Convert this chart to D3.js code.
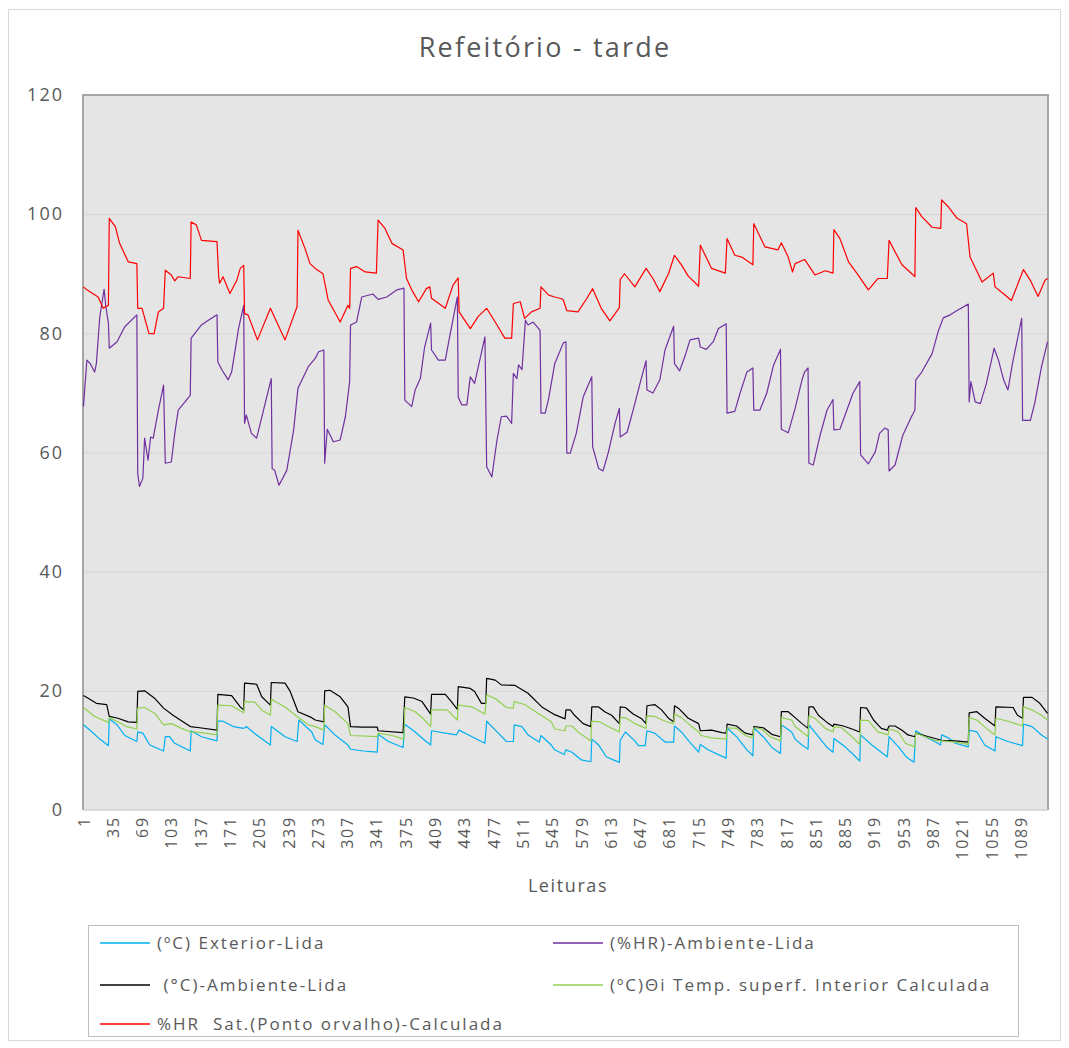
<!DOCTYPE html>
<html>
<head>
<meta charset="utf-8">
<script src="https://cdn.jsdelivr.net/npm/d3@7"></script>
<style>
  html, body { margin: 0; padding: 0; background: #fff; }
  svg { display: block; }
  text { font-family: "Open Sans", "Liberation Sans", sans-serif; }
</style>
</head>
<body>
<svg id="chart" width="1069" height="1048"></svg>
<script>
// ---------------- DATA ----------------
const chartTitle = "Refeitório - tarde";
const xTitle = "Leituras";
const nReadings = 1120;
const xTickStep = 34;
const yTicks = [0, 20, 40, 60, 80, 100, 120];

const seriesNames = [
  "(ºC) Exterior-Lida",
  "(%HR)-Ambiente-Lida",
  " (°C)-Ambiente-Lida",
  "(ºC)Θi Temp. superf. Interior Calculada",
  "%HR  Sat.(Ponto orvalho)-Calculada"
];
const seriesColors = ["#00b0f0", "#7030a0", "#000000", "#92d050", "#ff0000"];

// [reading, value]
const exterior = [[1,14.3],[11,13.1],[20,11.9],[30,10.8],[31,15.3],[40,14.3],[49,12.5],[63,11.5],[64,13.1],[70,12.9],[78,10.9],[94,9.9],[96,12.3],[101,12.3],[107,11.2],[125,9.9],[126,13.3],[138,12.3],[156,11.6],[157,14.9],[163,14.9],[175,14.0],[187,13.7],[190,14.0],[202,12.6],[218,10.9],[219,14.0],[235,12.3],[249,11.5],[251,15.1],[266,13.1],[270,11.8],[279,11.0],[281,14.3],[293,12.6],[308,10.9],[311,10.2],[326,9.9],[342,9.7],[343,12.7],[355,11.5],[372,10.5],[374,14.4],[386,13.1],[397,11.7],[404,10.9],[405,13.3],[421,12.9],[434,12.6],[437,13.4],[448,12.6],[467,11.2],[469,14.9],[479,13.4],[492,11.5],[500,11.5],[501,14.3],[510,14.0],[517,12.6],[530,11.4],[532,12.5],[544,10.9],[548,10.1],[559,9.3],[561,10.1],[568,9.7],[579,8.4],[590,8.1],[591,11.9],[599,10.9],[608,8.9],[623,8.0],[624,11.7],[630,13.1],[641,11.6],[645,10.8],[653,10.8],[655,13.3],[664,12.9],[676,11.4],[686,11.4],[687,14.1],[695,13.1],[703,11.7],[715,9.7],[717,11.0],[726,10.1],[738,9.3],[747,8.7],[748,13.8],[759,12.3],[771,10.1],[778,9.1],[779,13.8],[790,12.3],[800,10.5],[810,9.5],[811,14.3],[823,13.1],[827,11.9],[835,10.9],[842,10.2],[843,14.3],[854,12.3],[864,10.5],[871,9.7],[872,12.0],[885,10.6],[896,9.1],[902,8.2],[903,12.6],[916,10.9],[927,9.7],[934,8.9],[936,12.3],[947,10.6],[956,8.9],[965,8.0],[967,13.3],[978,12.3],[989,11.5],[996,10.9],[997,12.6],[1005,12.1],[1013,11.2],[1028,10.6],[1029,13.4],[1038,13.1],[1047,10.9],[1059,9.9],[1060,12.3],[1074,11.5],[1091,10.8],[1092,14.4],[1102,14.0],[1113,12.6],[1120,11.9]];

const hrAmbiente = [[1,67.7],[5,75.5],[9,74.9],[14,73.5],[16,74.9],[20,82.8],[25,87.4],[27,84.5],[30,81.7],[31,77.5],[40,78.6],[49,81.1],[63,83.1],[64,56.5],[66,54.3],[70,55.7],[72,62.4],[76,58.7],[79,62.6],[82,62.4],[88,67.1],[94,71.3],[96,58.2],[103,58.4],[107,63.2],[111,67.1],[125,69.6],[126,79.2],[138,81.4],[146,82.2],[156,83.1],[157,75.2],[162,73.8],[169,72.2],[173,73.5],[181,80.8],[187,84.7],[188,64.9],[190,66.3],[196,63.2],[202,62.4],[210,67.1],[219,72.4],[220,57.3],[223,57.0],[228,54.5],[237,57.0],[245,63.8],[250,70.8],[262,74.4],[270,75.8],[274,76.9],[280,77.2],[281,58.2],[284,63.9],[291,61.8],[299,62.1],[305,66.0],[310,71.9],[311,81.4],[318,81.9],[324,86.1],[337,86.6],[343,85.7],[353,86.1],[365,87.3],[373,87.6],[374,68.8],[382,67.7],[386,70.5],[392,72.4],[397,77.7],[404,81.7],[405,77.2],[413,75.5],[421,75.5],[426,79.4],[435,86.1],[436,69.3],[440,68.0],[446,68.0],[450,72.7],[455,71.6],[461,75.5],[467,79.4],[469,57.6],[475,55.9],[481,62.1],[486,66.0],[492,66.1],[498,64.9],[500,73.3],[504,72.4],[506,74.7],[510,73.9],[514,82.2],[517,81.4],[523,81.9],[531,80.5],[532,66.6],[537,66.6],[541,69.1],[548,74.9],[558,78.4],[561,78.6],[562,59.9],[566,59.9],[573,63.2],[581,69.3],[591,72.7],[592,61.0],[599,57.3],[604,56.9],[610,59.9],[618,64.9],[623,67.4],[624,62.6],[632,63.4],[639,67.1],[647,71.6],[654,75.4],[655,70.5],[662,70.0],[670,72.2],[676,77.2],[686,81.2],[687,74.9],[693,73.7],[699,76.1],[705,78.9],[715,79.2],[717,77.7],[724,77.3],[732,78.6],[738,80.8],[747,81.6],[748,66.6],[757,66.9],[763,69.9],[771,73.5],[778,74.2],[779,67.1],[786,67.1],[794,69.9],[802,74.7],[810,77.3],[811,63.9],[819,63.3],[827,67.4],[835,72.2],[838,73.5],[842,74.2],[843,58.2],[848,57.9],[856,62.9],[864,67.1],[871,68.9],[872,63.8],[879,63.9],[887,67.1],[894,69.9],[902,71.9],[903,59.6],[912,58.1],[920,60.1],[925,63.2],[931,64.1],[935,63.8],[936,56.9],[943,57.9],[952,62.9],[962,66.0],[966,67.1],[967,72.2],[974,73.5],[986,76.6],[993,80.3],[999,82.6],[1007,83.1],[1016,83.9],[1028,84.9],[1029,68.5],[1031,71.9],[1036,68.5],[1042,68.2],[1049,71.6],[1058,77.5],[1063,75.5],[1069,72.2],[1074,70.5],[1080,75.5],[1090,82.5],[1091,65.4],[1100,65.4],[1105,68.2],[1113,74.4],[1120,78.6]];

const tAmbiente = [[1,19.2],[7,18.7],[16,17.9],[28,17.7],[31,15.7],[41,15.4],[53,14.8],[63,14.7],[64,19.9],[72,20.0],[84,18.7],[94,17.1],[105,15.9],[125,14.0],[136,13.8],[156,13.4],[157,19.4],[173,19.2],[183,17.3],[187,16.8],[188,21.3],[202,21.1],[208,19.0],[218,17.6],[219,21.4],[235,21.3],[241,19.9],[250,16.5],[266,15.5],[270,15.1],[280,14.8],[281,20.0],[287,20.1],[299,19.0],[308,17.3],[311,14.0],[325,13.9],[342,13.9],[343,13.3],[372,13.0],[374,19.0],[384,18.8],[394,18.2],[404,16.1],[405,19.4],[421,19.4],[428,18.2],[435,16.9],[436,20.7],[450,20.4],[455,19.9],[463,17.9],[468,17.9],[469,22.1],[479,21.8],[486,21.0],[502,20.9],[517,19.6],[533,17.3],[548,16.0],[560,15.3],[561,16.8],[566,16.8],[571,15.9],[581,14.5],[590,14.0],[591,17.3],[599,17.3],[606,16.5],[614,15.9],[623,14.5],[624,17.3],[630,17.2],[639,16.1],[649,15.3],[654,14.5],[655,17.5],[664,17.7],[672,16.8],[680,15.4],[686,14.8],[687,17.5],[693,16.9],[703,15.4],[715,14.5],[717,13.3],[730,13.4],[742,13.0],[747,12.9],[748,14.4],[759,14.1],[769,12.9],[778,12.6],[779,14.0],[790,13.8],[800,12.7],[810,12.3],[811,16.5],[819,16.5],[827,15.5],[835,14.5],[842,13.7],[843,17.3],[848,17.3],[854,15.9],[864,14.7],[871,14.0],[872,14.4],[883,14.1],[893,13.6],[902,13.1],[903,17.2],[910,17.1],[918,15.1],[927,13.7],[934,13.4],[936,14.1],[943,14.1],[951,13.4],[958,12.6],[966,12.3],[967,12.9],[982,12.3],[997,11.7],[1013,11.6],[1028,11.4],[1029,16.3],[1038,16.5],[1047,15.4],[1059,14.1],[1060,17.3],[1080,17.2],[1085,15.9],[1091,15.4],[1092,18.9],[1102,18.9],[1111,17.9],[1120,16.2]];

const tSuperficie = [[1,17.2],[14,15.7],[30,14.7],[31,15.5],[41,14.8],[51,14.0],[63,13.6],[64,17.1],[72,17.2],[84,16.2],[94,14.3],[103,14.5],[115,13.7],[125,13.1],[138,13.0],[156,12.6],[157,17.6],[173,17.5],[185,16.5],[187,16.3],[188,18.2],[200,18.1],[208,16.8],[218,15.9],[219,18.6],[235,17.3],[249,15.7],[262,14.3],[270,14.0],[280,13.4],[281,17.6],[293,16.5],[308,14.5],[311,12.5],[342,12.3],[343,12.9],[359,12.5],[373,11.9],[374,17.2],[386,16.5],[395,15.4],[404,14.0],[405,16.8],[423,16.8],[435,15.1],[436,17.6],[452,17.3],[467,16.1],[469,19.3],[479,18.7],[492,17.2],[500,17.1],[501,18.2],[513,17.7],[529,16.2],[544,14.8],[548,13.6],[560,13.3],[561,14.1],[568,14.1],[575,13.1],[590,11.6],[591,14.9],[600,14.8],[610,14.0],[623,13.1],[624,15.5],[630,15.5],[641,14.5],[654,13.7],[655,15.8],[664,15.7],[676,14.9],[686,14.5],[687,16.1],[695,15.5],[707,14.0],[715,13.1],[718,12.5],[730,12.1],[747,11.9],[748,13.8],[759,13.7],[769,12.5],[778,12.1],[779,13.8],[788,13.6],[798,12.3],[810,11.6],[811,15.5],[823,15.1],[827,14.0],[842,12.3],[843,15.8],[850,15.4],[862,13.7],[871,13.1],[872,14.0],[881,13.8],[893,12.3],[902,11.0],[903,15.1],[912,15.0],[923,13.1],[935,12.6],[936,13.6],[947,13.1],[955,11.2],[966,10.6],[967,12.9],[978,12.3],[989,11.7],[997,11.6],[1013,11.4],[1028,11.0],[1029,15.5],[1038,15.1],[1049,13.7],[1059,12.6],[1060,15.4],[1074,14.9],[1091,14.1],[1092,17.3],[1102,16.8],[1113,15.9],[1120,15.1]];

const hrSaturacao = [[1,87.8],[5,87.3],[18,86.1],[24,84.2],[30,84.7],[31,99.3],[38,97.9],[43,95.1],[53,92.0],[63,91.7],[64,84.2],[69,84.2],[77,80.0],[83,79.9],[88,83.6],[94,84.2],[96,90.6],[103,89.8],[107,88.8],[111,89.5],[125,89.2],[126,98.7],[132,98.2],[138,95.6],[156,95.4],[158,89.5],[159,88.4],[163,89.5],[171,86.7],[179,88.9],[183,90.9],[187,91.4],[188,83.3],[192,83.1],[203,78.9],[218,84.2],[235,78.9],[249,84.5],[250,97.3],[258,94.3],[264,91.7],[270,90.9],[279,90.0],[285,85.6],[299,81.9],[308,84.7],[310,84.2],[311,90.9],[318,91.2],[328,90.3],[341,90.1],[343,99.0],[351,97.6],[359,95.1],[372,94.0],[376,89.2],[382,87.3],[390,85.3],[399,87.5],[403,87.8],[405,85.9],[421,84.2],[430,88.1],[436,89.3],[437,83.6],[450,80.8],[459,82.8],[469,84.2],[481,81.4],[490,79.2],[498,79.2],[500,85.0],[508,85.3],[513,82.5],[521,83.6],[531,84.2],[532,87.8],[541,86.4],[548,86.1],[556,85.8],[558,85.6],[562,83.8],[575,83.6],[585,85.8],[592,87.5],[602,84.2],[612,82.1],[623,84.3],[624,89.0],[629,90.0],[641,87.8],[654,90.9],[662,89.2],[670,87.0],[680,90.0],[687,93.1],[695,91.5],[703,89.6],[715,87.9],[717,94.8],[730,90.9],[746,90.1],[748,95.9],[757,93.1],[765,92.8],[778,91.5],[779,98.4],[792,94.5],[807,94.0],[811,95.2],[819,92.8],[824,90.3],[827,91.7],[838,92.4],[850,89.8],[862,90.5],[871,90.1],[872,97.4],[879,95.9],[889,92.0],[900,89.8],[912,87.3],[923,89.2],[934,89.2],[936,95.6],[951,91.5],[964,89.8],[966,89.5],[967,101.1],[974,99.6],[986,97.8],[996,97.6],[997,102.4],[1005,101.2],[1015,99.3],[1026,98.4],[1030,92.8],[1044,88.6],[1057,90.1],[1059,87.8],[1071,86.4],[1078,85.5],[1092,90.7],[1100,88.9],[1109,86.2],[1117,88.9],[1120,89.2]];

const seriesData = [exterior, hrAmbiente, tAmbiente, tSuperficie, hrSaturacao];

// ---------------- LAYOUT ----------------
const svg = d3.select("#chart");
const plot = { left: 83, top: 95, right: 1048, bottom: 810 };

const x = d3.scaleLinear().domain([0.5, nReadings + 0.5]).range([plot.left, plot.right]);
const y = d3.scaleLinear().domain([0, 120]).range([plot.bottom, plot.top]);

// outer chart border
svg.append("rect")
  .attr("x", 8.5).attr("y", 9.5).attr("width", 1052).attr("height", 1031)
  .attr("fill", "#fff").attr("stroke", "#d9d9d9").attr("stroke-width", 1);

// plot background
svg.append("rect")
  .attr("x", plot.left).attr("y", plot.top)
  .attr("width", plot.right - plot.left).attr("height", plot.bottom - plot.top)
  .attr("fill", "#e5e5e5");

// gridlines
svg.append("g").selectAll("line")
  .data(yTicks.filter(v => v > 0 && v < 120))
  .join("line")
  .attr("x1", plot.left).attr("x2", plot.right)
  .attr("y1", d => y(d) + 0.5).attr("y2", d => y(d) + 0.5)
  .attr("stroke", "#d6d6d6").attr("stroke-width", 1);

// plot border (left, top, right darker)
svg.append("path")
  .attr("d", `M${plot.left},${plot.bottom}V${plot.top}H${plot.right}V${plot.bottom}`)
  .attr("fill", "none").attr("stroke", "#a6a6a6").attr("stroke-width", 2);
svg.append("line")
  .attr("x1", plot.left).attr("x2", plot.right)
  .attr("y1", plot.bottom).attr("y2", plot.bottom)
  .attr("stroke", "#d0d0d0").attr("stroke-width", 1.5);

// series lines
const line = d3.line().x(d => x(d[0])).y(d => y(d[1]));
const gLines = svg.append("g");
seriesData.forEach((data, i) => {
  gLines.append("path")
    .datum(data)
    .attr("d", line)
    .attr("fill", "none")
    .attr("stroke", seriesColors[i])
    .attr("stroke-width", 1.2)
    .attr("stroke-linejoin", "round");
});

// y axis
const yAxis = svg.append("g")
  .attr("transform", `translate(${plot.left},0)`)
  .call(d3.axisLeft(y).tickValues(yTicks).tickSize(0).tickPadding(19));
yAxis.select(".domain").remove();
yAxis.selectAll("text")
  .attr("font-family", "'Open Sans', sans-serif")
  .attr("font-size", 18)
  .attr("letter-spacing", 2)
  .attr("fill", "#595959");

// x axis
const xTickValues = d3.range(1, nReadings + 1, xTickStep);
const xAxis = svg.append("g")
  .attr("transform", `translate(0,${plot.bottom})`)
  .call(d3.axisBottom(x).tickValues(xTickValues).tickSize(0).tickFormat(d3.format("d")));
xAxis.select(".domain").remove();
xAxis.selectAll("text")
  .attr("font-family", "'Open Sans', sans-serif")
  .attr("font-size", 16)
  .attr("letter-spacing", 1.8)
  .attr("fill", "#595959")
  .attr("transform", "rotate(-90)")
  .attr("x", -6).attr("y", 0).attr("dy", "0.35em")
  .style("text-anchor", "end");

// titles
svg.append("text")
  .attr("x", 545).attr("y", 57)
  .attr("text-anchor", "middle")
  .attr("font-size", 27)
  .attr("letter-spacing", 2.2)
  .attr("fill", "#595959")
  .text(chartTitle);

svg.append("text")
  .attr("x", 568).attr("y", 892)
  .attr("text-anchor", "middle")
  .attr("font-size", 18)
  .attr("letter-spacing", 1.6)
  .attr("fill", "#595959")
  .text(xTitle);

// legend
const legend = svg.append("g");
legend.append("rect")
  .attr("x", 88.5).attr("y", 925.5).attr("width", 930).attr("height", 111)
  .attr("fill", "#fff").attr("stroke", "#bfbfbf").attr("stroke-width", 1);
const legendPos = [
  { x: 100, y: 943 }, { x: 553, y: 943 },
  { x: 100, y: 985 }, { x: 553, y: 985 },
  { x: 100, y: 1024 }
];
seriesNames.forEach((name, i) => {
  const p = legendPos[i];
  legend.append("line")
    .attr("x1", p.x).attr("x2", p.x + 50)
    .attr("y1", p.y).attr("y2", p.y)
    .attr("stroke", seriesColors[i]).attr("stroke-width", 1.5);
  legend.append("text")
    .attr("x", p.x + 57).attr("y", p.y).attr("dy", "0.35em")
    .attr("font-size", 17)
    .attr("letter-spacing", 2)
    .attr("fill", "#595959")
    .attr("xml:space", "preserve")
    .style("white-space", "pre")
    .text(name);
});
</script>
</body>
</html>
